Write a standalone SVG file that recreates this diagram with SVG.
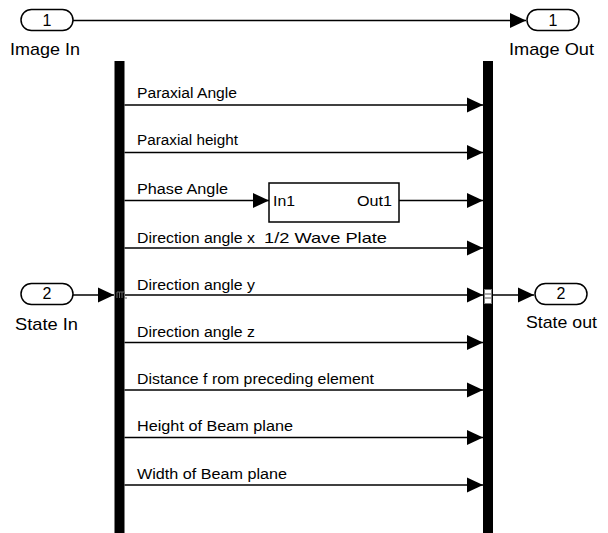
<svg xmlns="http://www.w3.org/2000/svg" width="608" height="533" viewBox="0 0 608 533">
  <defs>
    <style>
      .bg { fill: #ffffff; }
      .bar { fill: #000000; }
      .port { fill: #ffffff; stroke: #000000; stroke-width: 1.5; }
      .blk { fill: #ffffff; stroke: #000000; stroke-width: 1.5; }
      .wire { fill: none; stroke: #000000; stroke-width: 1.3; }
      .num { font-family: "Liberation Sans", Arial, sans-serif; font-size: 16px; fill: #000; text-anchor: middle; }
      .plbl { font-family: "Liberation Sans", Arial, sans-serif; font-size: 17px; fill: #000; }
      .sig { font-family: "Liberation Sans", Arial, sans-serif; font-size: 14px; fill: #000; }
      .bp { font-family: "Liberation Sans", Arial, sans-serif; font-size: 15px; fill: #000; }
    </style>
    <marker id="arr" viewBox="0 0 16 16" refX="16" refY="8" markerWidth="16" markerHeight="16" markerUnits="userSpaceOnUse" orient="auto">
      <path d="M0,0.5 L16,8 L0,15.5 Z" fill="#000"/>
    </marker>
  </defs>

  <rect class="bg" x="0" y="0" width="608" height="533"/>

  <!-- signal lines -->
  <g id="connectors">
    <line class="wire" x1="73" y1="20.5" x2="526" y2="20.5" marker-end="url(#arr)"/>
    <line class="wire" x1="73" y1="295" x2="114" y2="295" marker-end="url(#arr)"/>
    <line class="wire" x1="124.5" y1="105" x2="483" y2="105" marker-end="url(#arr)"/>
    <line class="wire" x1="124.5" y1="152.5" x2="483" y2="152.5" marker-end="url(#arr)"/>
    <line class="wire" x1="124.5" y1="200.5" x2="269" y2="200.5" marker-end="url(#arr)"/>
    <line class="wire" x1="399" y1="200.5" x2="483" y2="200.5" marker-end="url(#arr)"/>
    <line class="wire" x1="124.5" y1="248" x2="483" y2="248" marker-end="url(#arr)"/>
    <line class="wire" x1="124.5" y1="295" x2="483" y2="295" marker-end="url(#arr)"/>
    <line class="wire" x1="124.5" y1="342.5" x2="483" y2="342.5" marker-end="url(#arr)"/>
    <line class="wire" x1="124.5" y1="390" x2="483" y2="390" marker-end="url(#arr)"/>
    <line class="wire" x1="124.5" y1="437.5" x2="483" y2="437.5" marker-end="url(#arr)"/>
    <line class="wire" x1="124.5" y1="485" x2="483" y2="485" marker-end="url(#arr)"/>
    <line class="wire" x1="493" y1="295" x2="534" y2="295" marker-end="url(#arr)"/>
  </g>

  <!-- signal labels -->
  <g id="signal-labels">
    <text class="sig" x="137" y="98" textLength="100" lengthAdjust="spacingAndGlyphs">Paraxial Angle</text>
    <text class="sig" x="137" y="145" textLength="101" lengthAdjust="spacingAndGlyphs">Paraxial height</text>
    <text class="sig" x="137" y="193.5" textLength="91" lengthAdjust="spacingAndGlyphs">Phase Angle</text>
    <text class="sig" x="137" y="243" textLength="118" lengthAdjust="spacingAndGlyphs">Direction angle x</text>
    <text class="sig" x="137" y="289.5" textLength="118" lengthAdjust="spacingAndGlyphs">Direction angle y</text>
    <text class="sig" x="137" y="336.5" textLength="118" lengthAdjust="spacingAndGlyphs">Direction angle z</text>
    <text class="sig" x="137" y="383.5" textLength="237" lengthAdjust="spacingAndGlyphs">Distance f rom preceding element</text>
    <text class="sig" x="137" y="431" textLength="156" lengthAdjust="spacingAndGlyphs">Height of  Beam plane</text>
    <text class="sig" x="137" y="478.5" textLength="150" lengthAdjust="spacingAndGlyphs">Width of  Beam plane</text>
  </g>

  <!-- inport 1 -->
  <g id="image-in">
    <rect class="port" x="21" y="9.5" width="52" height="21" rx="10.5"/>
    <text class="num" x="47" y="25.5">1</text>
    <text class="plbl" x="10" y="55" textLength="70" lengthAdjust="spacingAndGlyphs">Image In</text>
  </g>

  <!-- outport 1 -->
  <g id="image-out">
    <rect class="port" x="527" y="9.5" width="52" height="21" rx="10.5"/>
    <text class="num" x="553" y="25.5">1</text>
    <text class="plbl" x="509" y="54.5" textLength="85" lengthAdjust="spacingAndGlyphs">Image Out</text>
  </g>

  <!-- inport 2 -->
  <g id="state-in">
    <rect class="port" x="21" y="283.5" width="52" height="21" rx="10.5"/>
    <text class="num" x="47" y="298.5">2</text>
    <text class="plbl" x="15" y="329.5" textLength="63" lengthAdjust="spacingAndGlyphs">State In</text>
  </g>

  <!-- outport 2 -->
  <g id="state-out">
    <rect class="port" x="535" y="283.5" width="52" height="21" rx="10.5"/>
    <text class="num" x="561" y="298.5">2</text>
    <text class="plbl" x="526" y="328" textLength="71" lengthAdjust="spacingAndGlyphs">State out</text>
  </g>

  <!-- demux bar -->
  <g id="demux">
    <rect class="bar" x="114.5" y="61" width="10" height="480"/>
    <path d="M117,298 V292 H119.5 V298 M119.5,292 H122 V298 M122,292 H124.5 V298 H127" fill="none" stroke="#666" stroke-width="1"/>
  </g>

  <!-- mux bar -->
  <g id="mux">
    <rect class="bar" x="483" y="61" width="10" height="480"/>
    <rect x="484.5" y="289.5" width="7" height="14" fill="#fff" stroke="#777" stroke-width="1"/>
    <line x1="485" y1="294" x2="491" y2="294" stroke="#555" stroke-width="1"/>
    <line x1="485" y1="298" x2="491" y2="298" stroke="#555" stroke-width="1"/>
  </g>

  <!-- half wave plate subsystem -->
  <g id="wave-plate">
    <rect class="blk" x="269" y="183" width="130" height="39"/>
    <text class="bp" x="273" y="206" textLength="22" lengthAdjust="spacingAndGlyphs">In1</text>
    <text class="bp" x="357" y="206" textLength="35" lengthAdjust="spacingAndGlyphs">Out1</text>
    <text class="bp" x="264" y="243" textLength="123" lengthAdjust="spacingAndGlyphs">1/2 Wave Plate</text>
  </g>
</svg>
